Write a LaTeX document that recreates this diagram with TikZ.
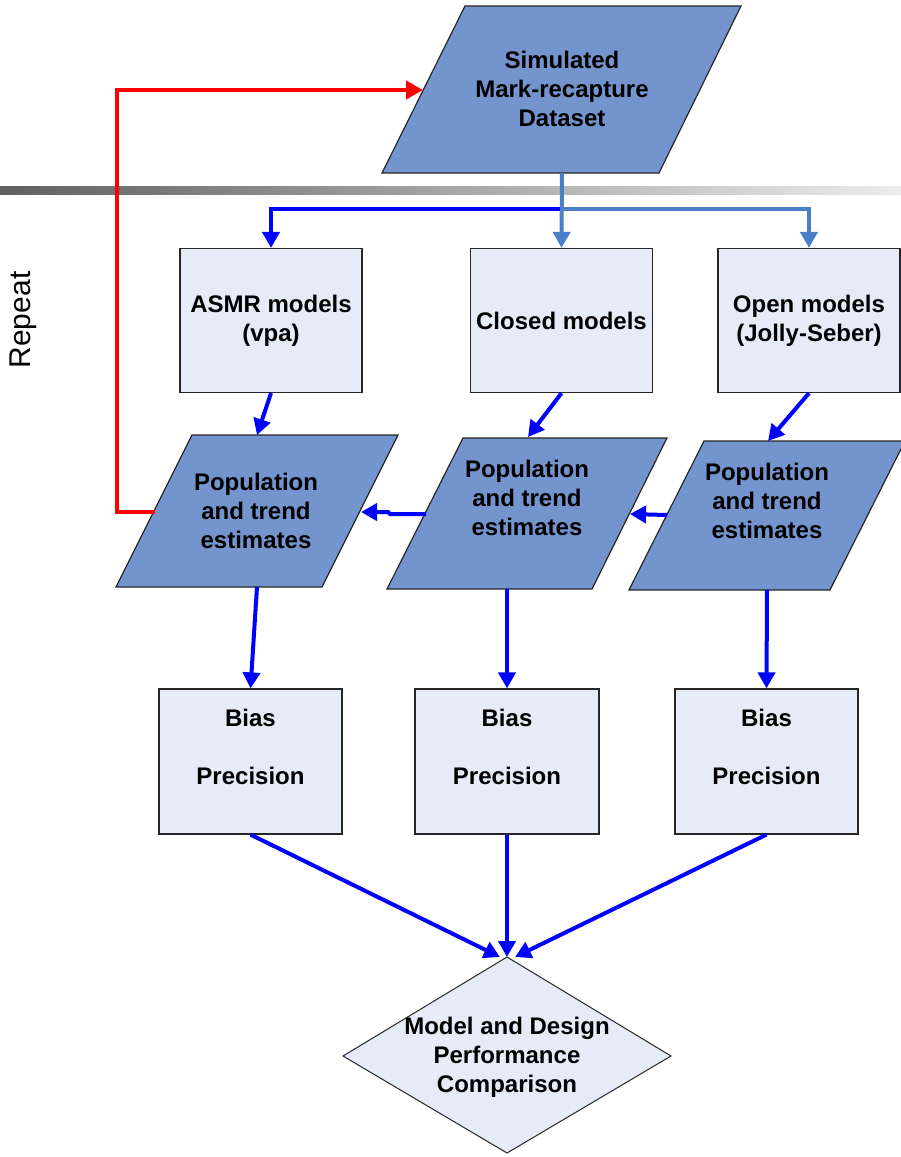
\documentclass[tikz,border=0pt]{standalone}
\usepackage{fontspec}
\setmainfont{Liberation Sans}
\usetikzlibrary{arrows.meta}
\definecolor{boxfill}{RGB}{230,236,247}
\definecolor{parafill}{RGB}{116,148,206}
\definecolor{flowblue}{RGB}{0,0,255}
\definecolor{steel}{RGB}{74,126,199}
\definecolor{loopred}{RGB}{255,0,0}
\definecolor{bardark}{RGB}{96,96,96}
\definecolor{barlight}{RGB}{236,236,236}
\begin{document}
\begin{tikzpicture}[x=1pt,y=-1pt,
  boxnode/.style={draw=black!85,line width=1.2pt,fill=boxfill,rectangle,inner sep=0pt,
    minimum width=182pt,minimum height=144pt,font=\bfseries\fontsize{24}{29}\selectfont,align=center},
  parashape/.style={draw=black!85,line width=1.2pt,fill=parafill},
  diashape/.style={draw=black!85,line width=1pt,fill=boxfill},
  txt/.style={font=\bfseries\fontsize{24}{29}\selectfont,align=center,inner sep=0pt},
  flow/.style={draw=flowblue,line width=4pt,-{Triangle[width=17pt,length=16pt]}},
  steelflow/.style={draw=steel,line width=4pt,-{Triangle[width=17pt,length=16pt]}},
  loop/.style={draw=loopred,line width=4.5pt,-{Triangle[width=18pt,length=17pt]}}
]
\useasboundingbox (0,0) rectangle (901,1157);

% gradient bar
\shade[left color=bardark,right color=barlight] (0,186) rectangle (901,194);

% top parallelogram
\filldraw[parashape] (465,6) -- (741,6) -- (659,173) -- (382,173) -- cycle;
\node[txt] (sim) at (562,89) {Simulated\\Mark-recapture\\Dataset};
\coordinate (simleft) at (423,90);
\coordinate (simbottom) at (562,173);
\coordinate (split) at (562,209);

% model boxes
\node[boxnode] (asmr) at (271,320.5) {ASMR models\\(vpa)};
\node[boxnode] (closed) at (561.5,320.5) {Closed models};
\node[boxnode] (open) at (809,320.5) {Open models\\(Jolly-Seber)};

% estimate parallelograms
\filldraw[parashape] (192,435) -- (398,435) -- (322,587) -- (116,587) -- cycle;
\filldraw[parashape] (463,438) -- (667,438) -- (592,589) -- (387,589) -- cycle;
\filldraw[parashape] (704,441) -- (905,441) -- (830,590) -- (629,590) -- cycle;
\node[txt] (pl) at (256,511) {Population\\and trend\\estimates};
\node[txt] (pm) at (527,498) {Population\\and trend\\estimates};
\node[txt] (pr) at (767,501) {Population\\and trend\\estimates};
\coordinate (pltop) at (257,435);
\coordinate (pmtop) at (528,437);
\coordinate (prtop) at (768,441);
\coordinate (plright) at (361,512);
\coordinate (plleft) at (155,512);
\coordinate (pmleft) at (426,514);
\coordinate (pmright) at (630,514);
\coordinate (prleft) at (667,515);
\coordinate (plbottom) at (257,587);
\coordinate (pmbottom) at (507,589);
\coordinate (prbottom) at (767,590);

% bias boxes
\node[boxnode,minimum width=183pt,minimum height=145pt] (bl) at (250.5,761.5) {Bias\\[29pt]Precision\\\mbox{}};
\node[boxnode,minimum width=184pt,minimum height=145pt] (bm) at (507,761.5) {Bias\\[29pt]Precision\\\mbox{}};
\node[boxnode,minimum width=183pt,minimum height=145pt] (br) at (766.5,761.5) {Bias\\[29pt]Precision\\\mbox{}};

% diamond
\filldraw[diashape] (507,957) -- (671,1056) -- (507,1153) -- (343,1056) -- cycle;
\node[txt] (cmp) at (507,1057) {Model and Design\\Performance\\Comparison};
\coordinate (cmptop) at (507,957);
\coordinate (cmpl) at (500,957);
\coordinate (cmpr) at (515,957);

% Repeat label
\node[rotate=90,font=\fontsize{30}{32}\selectfont,inner sep=0pt] (rep) at (23,320) {Repeat};

% connectors from dataset
\draw[flow] (split) -| (asmr.north);
\draw[steelflow] (simbottom) -- (closed.north);
\draw[steelflow] (split) -| (open.north);

% boxes to estimates
\draw[flow] (asmr.south) -- (pltop);
\draw[flow] (closed.south) -- (pmtop);
\draw[flow] (open.south) -- (prtop);

% estimates leftward
\draw[flow] (pmleft) -- ++(-36,0) -- ++(-2,-2) -- (plright);
\draw[flow] (prleft) -- (pmright);

% repeat loop
\draw[loop] (plleft) -- (117,512) -- (117,90) -- (simleft);

% estimates to bias boxes
\draw[flow] (plbottom) -- (bl.north);
\draw[flow] (pmbottom) -- (bm.north);
\draw[flow] (prbottom) -- (br.north);

% bias boxes to comparison
\draw[flow] (bl.south) -- (cmpl);
\draw[flow] (bm.south) -- (cmptop);
\draw[flow] (br.south) -- (cmpr);
\end{tikzpicture}
\end{document}
